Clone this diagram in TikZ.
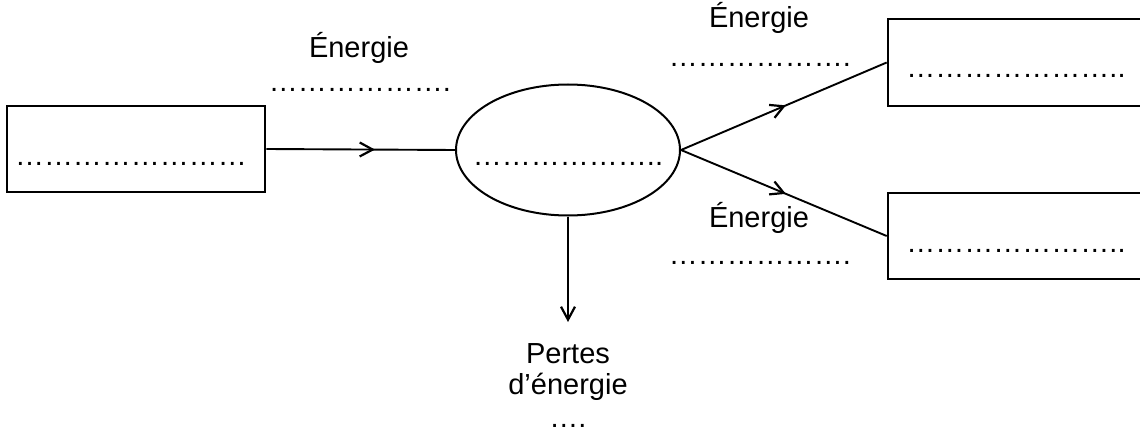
\documentclass[tikz,border=0pt]{standalone}
\usepackage{fontspec}
\setmainfont{Liberation Sans}
\usetikzlibrary{shapes.geometric, arrows.meta, decorations.markings}

\tikzset{
  box/.style={draw, line width=1.3pt, rectangle, minimum width=129pt, minimum height=43pt, inner sep=0pt},
  converter/.style={draw, line width=1pt, ellipse, minimum width=112pt, minimum height=65.5pt, inner sep=0pt},
  lbl/.style={inner sep=0pt, anchor=base, font=\fontsize{14.5}{15.5}\selectfont},
  barb/.tip={Straight Barb[length=6.5pt, width=7pt, line width=1.1pt]},
  flow/.style={line width=0.95pt, postaction={decorate},
    decoration={markings, mark=at position #1 with {\arrow{barb}}}},
  flow/.default=0.5,
}

\begin{document}
\begin{tikzpicture}[x=0.5pt, y=-0.5pt]
  \useasboundingbox (0,0) rectangle (1140,433);
  \clip (0,0) rectangle (1140,433);

  % blocs
  \node[box] (source) at (136,149) {};
  \node[converter] (conv) at (568,150) {};
  \node[box, minimum width=131pt, minimum height=43.5pt] (out1) at (1019,62.5) {};
  \node[box, minimum width=131pt] (out2) at (1019,236) {};
  \coordinate (loss) at (568,322);

  % textes a completer
  \node[lbl] (srcdots) at (131,165) {……………………};
  \node[lbl] (convdots) at (568,165) {………………..};
  \node[lbl] (out1dots) at (1016,78) {…………………..};
  \node[lbl] (out2dots) at (1016,252) {…………………..};

  \node[lbl] (e1) at (359,58) {Énergie};
  \node[lbl] (e1dots) at (360,91) {……………….};
  \node[lbl] (e2) at (759,28) {Énergie};
  \node[lbl] (e2dots) at (760,67) {……………….};
  \node[lbl] (e3) at (759,227) {Énergie};
  \node[lbl] (e3dots) at (760,264) {……………….};

  \node[lbl] (pertes) at (568,363) {Pertes};
  \node[lbl] (pertes2) at (568,394) {d’énergie};
  \node[lbl] (pertesdots) at (568,427) {….};

  % fleches
  \draw[flow=0.576] (source.east) -- (conv.west);
  \draw[flow=0.51] (conv.east) -- (out1.west);
  \draw[flow=0.51] (conv.east) -- (out2.west);
  \draw[line width=0.95pt, -{barb}] (conv.south) -- (loss);
\end{tikzpicture}
\end{document}
